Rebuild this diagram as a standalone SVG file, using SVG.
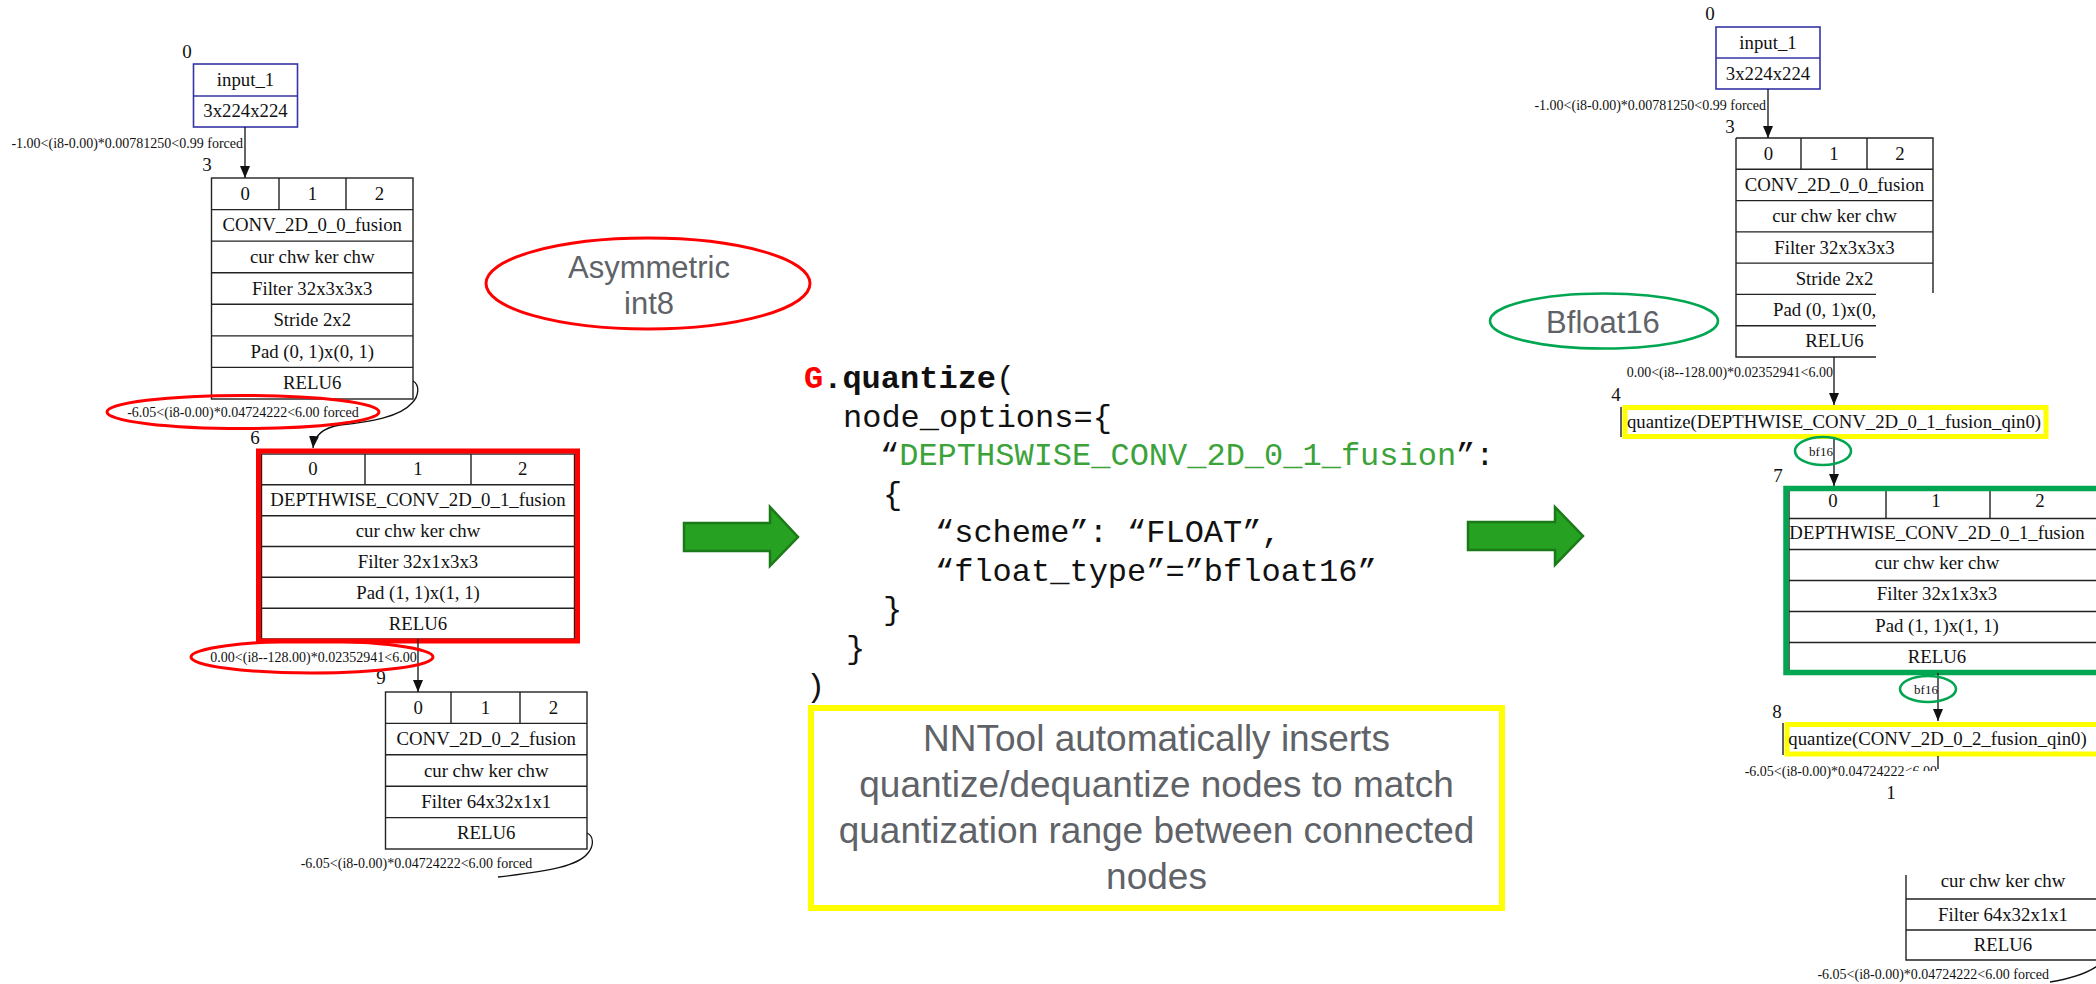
<svg xmlns="http://www.w3.org/2000/svg" width="2096" height="984" viewBox="0 0 2096 984">
  <defs>
    <marker id="arrow" viewBox="0 0 12 10" refX="12" refY="5" markerWidth="12" markerHeight="10" markerUnits="userSpaceOnUse" orient="auto">
      <path d="M0,0 L12,5 L0,10 z" fill="#111"/>
    </marker>
    <clipPath id="cut-label">
      <rect x="1700" y="750" width="205" height="40"/>
      <rect x="1905" y="750" width="40" height="21"/>
    </clipPath>
    <style>
      .g text { font-family: "Liberation Serif", "Times New Roman", serif; fill: #111; }
      .num { font-size: 19px; text-anchor: middle; }
      .lbl { font-size: 18.8px; text-anchor: middle; }
      .elab { font-size: 14px; }
      .small { font-size: 13px; text-anchor: middle; }
      .cell { fill: #fff; stroke: #222; stroke-width: 1.4; }
      .grid { fill: none; stroke: #222; stroke-width: 1.4; }
      .inbox { fill: #fff; stroke: #3535a5; stroke-width: 1.6; }
      .edge { fill: none; stroke: #111; stroke-width: 1.3; }
      .arr { marker-end: url(#arrow); }
      .ring-red { fill: none; stroke: #ff0000; stroke-width: 3; }
      .ring-green { fill: none; stroke: #00a651; stroke-width: 2.6; }
      .note { font-family: "Liberation Sans", Arial, sans-serif; fill: #5f6368; text-anchor: middle; }
      .code { font-family: "Liberation Mono", "Courier New", monospace; font-size: 32px; fill: #111; }
      .fat { fill: #27a122; stroke: #1b7a18; stroke-width: 2.5; }
    </style>
  </defs>

  <rect width="2096" height="984" fill="#fff"/>

  <!-- ===== left graph: int8 network ===== -->
  <g class="g">
    <g id="l-input">
      <text class="num" x="187" y="58">0</text>
      <rect class="inbox" x="193.5" y="64" width="104" height="63"/>
      <line x1="193.5" y1="96" x2="297.5" y2="96" stroke="#3535a5" stroke-width="1.6"/>
      <text class="lbl" x="245.5" y="86">input_1</text>
      <text class="lbl" x="245.5" y="117">3x224x224</text>
    </g>

    <g id="l-conv0">
      <text class="num" x="207" y="171">3</text>
      <rect class="cell" x="211.5" y="178" width="201.5" height="221"/>
      <path class="grid" d="M211.5 209.6H413M211.5 241.1H413M211.5 272.7H413M211.5 304.3H413M211.5 335.9H413M211.5 367.4H413M279 178V209.6M346 178V209.6"/>
      <text class="lbl" x="245.25" y="199.8">0</text>
      <text class="lbl" x="312.5" y="199.8">1</text>
      <text class="lbl" x="379.5" y="199.8">2</text>
      <text class="lbl" x="312.25" y="231.4">CONV_2D_0_0_fusion</text>
      <text class="lbl" x="312.25" y="262.9">cur chw ker chw</text>
      <text class="lbl" x="312.25" y="294.5">Filter 32x3x3x3</text>
      <text class="lbl" x="312.25" y="326.1">Stride 2x2</text>
      <text class="lbl" x="312.25" y="357.6">Pad (0, 1)x(0, 1)</text>
      <text class="lbl" x="312.25" y="389.2">RELU6</text>
    </g>

    <g id="l-dw">
      <text class="num" x="255" y="444">6</text>
      <rect class="cell" x="261.5" y="454" width="313" height="185"/>
      <path class="grid" d="M261.5 484.8H574.5M261.5 515.7H574.5M261.5 546.5H574.5M261.5 577.3H574.5M261.5 608.2H574.5M365 454V484.8M471 454V484.8"/>
      <rect x="258.5" y="451" width="319" height="190" fill="none" stroke="#ff0000" stroke-width="5"/>
      <text class="lbl" x="313" y="475.4">0</text>
      <text class="lbl" x="418" y="475.4">1</text>
      <text class="lbl" x="522.75" y="475.4">2</text>
      <text class="lbl" x="418" y="506.2">DEPTHWISE_CONV_2D_0_1_fusion</text>
      <text class="lbl" x="418" y="537.1">cur chw ker chw</text>
      <text class="lbl" x="418" y="567.9">Filter 32x1x3x3</text>
      <text class="lbl" x="418" y="598.8">Pad (1, 1)x(1, 1)</text>
      <text class="lbl" x="418" y="629.6">RELU6</text>
    </g>

    <g id="l-conv2">
      <text class="num" x="381" y="684">9</text>
      <rect class="cell" x="385.5" y="692" width="201.5" height="157"/>
      <path class="grid" d="M385.5 723.4H587M385.5 754.8H587M385.5 786.2H587M385.5 817.6H587M451 692V723.4M520 692V723.4"/>
      <text class="lbl" x="418.25" y="713.7">0</text>
      <text class="lbl" x="485.5" y="713.7">1</text>
      <text class="lbl" x="553.5" y="713.7">2</text>
      <text class="lbl" x="486.25" y="745.1">CONV_2D_0_2_fusion</text>
      <text class="lbl" x="486.25" y="776.5">cur chw ker chw</text>
      <text class="lbl" x="486.25" y="807.9">Filter 64x32x1x1</text>
      <text class="lbl" x="486.25" y="839.3">RELU6</text>
    </g>

    <g id="l-edges">
      <path class="edge arr" d="M245 127V178"/>
      <path class="edge arr" d="M413 381C420 385 419 396 412 403C400 417 370 422 340 425C322 428 314 436 313 448"/>
      <path class="edge arr" d="M418 639V692"/>
      <path class="edge" d="M587 833C594 836 594 846 588 853C578 866 550 871 498 877"/>
      <text class="elab" x="243" y="148" text-anchor="end">-1.00&lt;(i8-0.00)*0.00781250&lt;0.99 forced</text>
      <text class="elab" x="243" y="416.5" text-anchor="middle">-6.05&lt;(i8-0.00)*0.04724222&lt;6.00 forced</text>
      <text class="elab" x="313.5" y="661.5" text-anchor="middle">0.00&lt;(i8--128.00)*0.02352941&lt;6.00</text>
      <text class="elab" x="416.5" y="867.5" text-anchor="middle">-6.05&lt;(i8-0.00)*0.04724222&lt;6.00 forced</text>
      <ellipse class="ring-red" cx="243" cy="412" rx="136" ry="16.5"/>
      <ellipse class="ring-red" cx="312" cy="657" rx="121" ry="16"/>
    </g>
  </g>

  <!-- callout: quantization of the left network -->
  <g id="tag-int8">
    <ellipse class="ring-red" cx="648" cy="283.5" rx="162" ry="45.5"/>
    <text class="note" x="649" y="278" font-size="31">Asymmetric</text>
    <text class="note" x="649" y="314" font-size="31">int8</text>
  </g>

  <!-- transition arrows -->
  <g id="arrow-left">
    <polygon class="fat" points="684,523 770,523 770,507 798,537 770,566 770,551 684,551"/>
  </g>
  <g id="arrow-right">
    <polygon class="fat" points="1468,522 1555,522 1555,507 1583,536 1555,565 1555,550 1468,550"/>
  </g>

  <!-- API call -->
  <g id="code">
    <text class="code" x="804" y="388"><tspan font-weight="bold" fill="#ff0000">G</tspan><tspan font-weight="bold">.quantize</tspan>(</text>
    <text class="code" x="843" y="426.5">node_options={</text>
    <text class="code" x="880" y="465">“<tspan fill="#3ca33a">DEPTHSWISE_CONV_2D_0_1_fusion</tspan>”:</text>
    <text class="code" x="883" y="503.5">{</text>
    <text class="code" x="935" y="542">“scheme”: “FLOAT”,</text>
    <text class="code" x="935" y="580.5">“float_type”=”bfloat16”</text>
    <text class="code" x="883" y="619">}</text>
    <text class="code" x="846" y="657.5">}</text>
    <text class="code" x="806" y="696">)</text>
  </g>

  <g id="note">
    <rect x="811" y="708" width="691" height="200" fill="none" stroke="#ffff00" stroke-width="6"/>
    <text class="note" x="1156.5" y="751" font-size="37">NNTool automatically inserts</text>
    <text class="note" x="1156.5" y="797" font-size="37">quantize/dequantize nodes to match</text>
    <text class="note" x="1156.5" y="843" font-size="37">quantization range between connected</text>
    <text class="note" x="1156.5" y="889" font-size="37">nodes</text>
  </g>

  <!-- ===== right graph: bfloat16 depthwise layer ===== -->
  <g class="g">
    <g id="r-input">
      <text class="num" x="1710" y="20">0</text>
      <rect class="inbox" x="1716" y="27" width="104" height="62"/>
      <line x1="1716" y1="58" x2="1820" y2="58" stroke="#3535a5" stroke-width="1.6"/>
      <text class="lbl" x="1768" y="48.5">input_1</text>
      <text class="lbl" x="1768" y="79.5">3x224x224</text>
    </g>

    <g id="r-conv0">
      <text class="num" x="1730" y="133">3</text>
      <rect x="1736" y="138" width="197" height="219" fill="#fff"/>
      <path class="grid" d="M1736 138H1933V293M1736 138V357H1876M1736 169.3H1933M1736 200.6H1933M1736 231.9H1933M1736 263.1H1933M1736 294.4H1876M1736 325.7H1876M1801 138V169.3M1867 138V169.3"/>
      <text class="lbl" x="1768.5" y="159.6">0</text>
      <text class="lbl" x="1834" y="159.6">1</text>
      <text class="lbl" x="1900" y="159.6">2</text>
      <text class="lbl" x="1834.5" y="190.9">CONV_2D_0_0_fusion</text>
      <text class="lbl" x="1834.5" y="222.2">cur chw ker chw</text>
      <text class="lbl" x="1834.5" y="253.5">Filter 32x3x3x3</text>
      <text class="lbl" x="1834.5" y="284.8">Stride 2x2</text>
      <text x="1773" y="316" font-size="18.8">Pad (0, 1)x(0,</text>
      <text class="lbl" x="1834.5" y="347.3">RELU6</text>
    </g>

    <g id="r-quant-dw">
      <text class="num" x="1616" y="401">4</text>
      <line x1="1621" y1="407" x2="1621" y2="437" stroke="#222" stroke-width="1.4"/>
      <rect x="1625" y="407.5" width="421" height="29" fill="#fff" stroke="#ffff00" stroke-width="5"/>
      <text class="lbl" x="1834" y="428">quantize(DEPTHWISE_CONV_2D_0_1_fusion_qin0)</text>
    </g>

    <g id="r-dw">
      <text class="num" x="1778" y="482">7</text>
      <rect class="cell" x="1789" y="489" width="320" height="184"/>
      <path class="grid" d="M1789 518.5H2100M1789 549.5H2100M1789 580.5H2100M1789 611.5H2100M1789 642.5H2100M1886 489V518.5M1990 489V518.5"/>
      <rect x="1786" y="488.5" width="320" height="184" fill="none" stroke="#00a651" stroke-width="5.5"/>
      <text class="lbl" x="1833" y="507">0</text>
      <text class="lbl" x="1936" y="507">1</text>
      <text class="lbl" x="2040" y="507">2</text>
      <text class="lbl" x="1937" y="539">DEPTHWISE_CONV_2D_0_1_fusion</text>
      <text class="lbl" x="1937" y="569">cur chw ker chw</text>
      <text class="lbl" x="1937" y="600">Filter 32x1x3x3</text>
      <text class="lbl" x="1937" y="632">Pad (1, 1)x(1, 1)</text>
      <text class="lbl" x="1937" y="663">RELU6</text>
    </g>

    <g id="r-quant-conv2">
      <text class="num" x="1777" y="718">8</text>
      <line x1="1783" y1="723" x2="1783" y2="755" stroke="#222" stroke-width="1.4"/>
      <rect x="1787" y="724.5" width="320" height="29.5" fill="#fff" stroke="#ffff00" stroke-width="5"/>
      <text class="lbl" x="1937.5" y="745">quantize(CONV_2D_0_2_fusion_qin0)</text>
    </g>

    <g id="r-conv2">
      <path class="grid" d="M1906 875V960H2100M1906 899H2100M1906 930H2100"/>
      <text class="lbl" x="2003" y="887">cur chw ker chw</text>
      <text class="lbl" x="2003" y="920.5">Filter 64x32x1x1</text>
      <text class="lbl" x="2003" y="951">RELU6</text>
    </g>

    <g id="r-edges">
      <path class="edge arr" d="M1768 89V138"/>
      <path class="edge arr" d="M1834 357V405"/>
      <path class="edge arr" d="M1834 439V486"/>
      <path class="edge arr" d="M1938 673V721"/>
      <path class="edge" d="M1938 756V769"/>
      <path class="edge" d="M2100 964C2090 972 2075 978 2050 982"/>
      <text class="elab" x="1766" y="109.5" text-anchor="end">-1.00&lt;(i8-0.00)*0.00781250&lt;0.99 forced</text>
      <text class="elab" x="1833" y="376.5" text-anchor="end">0.00&lt;(i8--128.00)*0.02352941&lt;6.00</text>
      <text class="elab" x="1937" y="776" text-anchor="end" clip-path="url(#cut-label)">-6.05&lt;(i8-0.00)*0.04724222&lt;6.00</text>
      <text class="num" x="1891" y="799">1</text>
      <text class="elab" x="2049" y="978.5" text-anchor="end">-6.05&lt;(i8-0.00)*0.04724222&lt;6.00 forced</text>
      <ellipse class="ring-green" cx="1823" cy="451" rx="28" ry="14"/>
      <text class="small" x="1821" y="456">bf16</text>
      <ellipse class="ring-green" cx="1928" cy="689" rx="28" ry="13"/>
      <text class="small" x="1926" y="694">bf16</text>
    </g>
  </g>

  <g id="tag-bf16">
    <ellipse class="ring-green" cx="1604" cy="321" rx="114" ry="27.5"/>
    <text class="note" x="1603" y="333" font-size="31">Bfloat16</text>
  </g>
</svg>
